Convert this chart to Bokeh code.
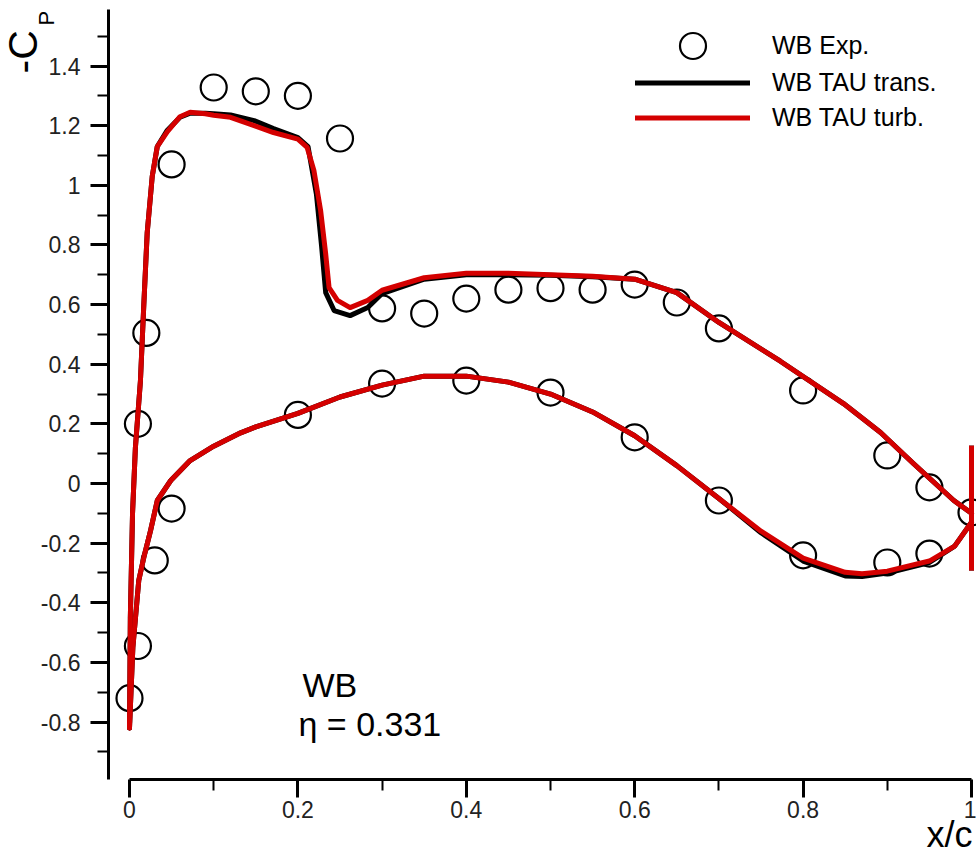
import math
from bokeh.plotting import figure
from bokeh.models import (Range1d, FixedTicker, CustomJSTickFormatter, Legend,
                          LegendItem, Label)
from bokeh.embed import file_html
from bokeh.resources import INLINE

# ---------------- data ----------------
# Experiment (WB Exp.)
exp_upper_x = [0.01, 0.02, 0.05, 0.10, 0.15, 0.20, 0.25, 0.30, 0.35, 0.40, 0.45,
               0.50, 0.55, 0.60, 0.65, 0.70, 0.80, 0.90, 0.95, 1.00]
exp_upper_cp = [0.20, 0.505, 1.07, 1.328, 1.315, 1.30, 1.157, 0.587, 0.57, 0.62, 0.65,
                0.655, 0.65, 0.667, 0.607, 0.52, 0.312, 0.094, -0.013, -0.097]
exp_lower_x = [0.0, 0.01, 0.03, 0.05, 0.20, 0.30, 0.40, 0.50, 0.60, 0.70, 0.80, 0.90, 0.95]
exp_lower_cp = [-0.72, -0.545, -0.258, -0.084, 0.23, 0.335, 0.345, 0.305, 0.155, -0.057,
                -0.241, -0.265, -0.235]

# TAU turbulent (red)
turb_upper_x = [0.0, 0.001, 0.0036, 0.007, 0.013, 0.017, 0.021, 0.027, 0.033, 0.045, 0.06,
                0.072, 0.09, 0.10, 0.12, 0.148, 0.171, 0.20, 0.211, 0.219, 0.227, 0.233,
                0.237, 0.247, 0.262, 0.283, 0.30, 0.35, 0.40, 0.45, 0.50, 0.55, 0.60,
                0.65, 0.70, 0.773, 0.848, 0.892, 0.931, 0.979, 1.0]
turb_upper_cp = [-0.82, -0.45, -0.10, 0.12, 0.345, 0.60, 0.84, 1.03, 1.13, 1.18, 1.23,
                 1.245, 1.24, 1.235, 1.228, 1.20, 1.177, 1.155, 1.127, 1.05, 0.915, 0.77,
                 0.657, 0.614, 0.59, 0.614, 0.648, 0.69, 0.705, 0.705, 0.70, 0.695, 0.685,
                 0.64, 0.54, 0.41, 0.268, 0.171, 0.067, -0.057, -0.10]
turb_lower_x = [0.0, 0.004, 0.011, 0.017, 0.025, 0.033, 0.049, 0.072, 0.10, 0.132, 0.15,
                0.20, 0.25, 0.30, 0.35, 0.40, 0.45, 0.50, 0.55, 0.60, 0.65, 0.70, 0.75,
                0.80, 0.85, 0.87, 0.90, 0.95, 0.98, 1.0]
turb_lower_cp = [-0.82, -0.55, -0.325, -0.248, -0.158, -0.057, 0.01, 0.077, 0.125, 0.17,
                 0.19, 0.235, 0.29, 0.33, 0.36, 0.36, 0.34, 0.30, 0.24, 0.16, 0.06, -0.05,
                 -0.16, -0.25, -0.298, -0.303, -0.294, -0.26, -0.21, -0.13]

# TAU transitional (black)
trans_upper_x = [0.0, 0.001, 0.0036, 0.007, 0.013, 0.017, 0.021, 0.027, 0.033, 0.045, 0.06,
                 0.072, 0.09, 0.10, 0.12, 0.148, 0.171, 0.20, 0.212, 0.222, 0.228, 0.233,
                 0.243, 0.262, 0.283, 0.30, 0.35, 0.40, 0.45, 0.50, 0.55, 0.60, 0.65,
                 0.70, 0.773, 0.848, 0.892, 0.931, 0.979, 1.0]
trans_upper_cp = [-0.82, -0.45, -0.10, 0.12, 0.345, 0.60, 0.84, 1.03, 1.13, 1.185, 1.228,
                  1.242, 1.242, 1.24, 1.236, 1.217, 1.19, 1.16, 1.13, 0.97, 0.80, 0.64,
                  0.58, 0.563, 0.59, 0.637, 0.685, 0.70, 0.70, 0.698, 0.693, 0.685, 0.64,
                  0.54, 0.41, 0.268, 0.171, 0.067, -0.057, -0.10]
trans_lower_x = turb_lower_x
trans_lower_cp = [-0.82, -0.55, -0.325, -0.248, -0.158, -0.057, 0.01, 0.077, 0.125, 0.17,
                  0.19, 0.235, 0.29, 0.33, 0.36, 0.36, 0.34, 0.30, 0.24, 0.16, 0.06, -0.05,
                  -0.165, -0.26, -0.31, -0.312, -0.30, -0.265, -0.21, -0.13]

# blunt trailing edge (x/c = 1)
te_x = [1.0, 1.0]
te_cp = [0.127, -0.292]

x_ticks = [0.0, 0.2, 0.4, 0.6, 0.8, 1.0]
x_minor = [0.1, 0.3, 0.5, 0.7, 0.9]
y_ticks = [-0.8, -0.6, -0.4, -0.2, 0.0, 0.2, 0.4, 0.6, 0.8, 1.0, 1.2, 1.4]
y_minor = [-0.9, -0.7, -0.5, -0.3, -0.1, 0.1, 0.3, 0.5, 0.7, 0.9, 1.1, 1.3, 1.5]

# ---------------- layout ----------------
W, H = 976, 858
AX_LEFT, AX_TOP, AX_BOTTOM = 108, 9, 779   # axis line positions (px)
X0_PX, X_SCALE = 129.0, 842.0      # pixel of x/c=0, px per unit
Y0_PX, Y_SCALE = 483.0, 298.2      # pixel of Cp=0, px per unit

def px2x(px):
    return (px - X0_PX) / X_SCALE

def px2y(py):
    return (Y0_PX - py) / Y_SCALE

p = figure(width=W, height=H, output_backend="svg", toolbar_location=None,
           x_range=Range1d(px2x(0), px2x(W)),
           y_range=Range1d(px2y(H), px2y(0)),
           min_border=0, min_border_left=0, min_border_right=0,
           min_border_top=0, min_border_bottom=0)
p.outline_line_color = None
p.grid.visible = False
p.background_fill_color = "white"
p.border_fill_color = "white"

fmt = CustomJSTickFormatter(code="return String(Math.round(tick*10)/10);")
for ax in (p.xaxis[0], p.yaxis[0]):
    ax.axis_line_width = 3
    ax.axis_line_color = "black"
    ax.major_tick_line_width = 3
    ax.major_tick_line_color = "black"
    ax.major_tick_in = 0
    ax.major_tick_out = 18
    ax.minor_tick_line_width = 2
    ax.minor_tick_line_color = "black"
    ax.minor_tick_in = 0
    ax.minor_tick_out = 11
    ax.major_label_text_font = "Liberation Sans"
    ax.major_label_text_font_size = "23px"
    ax.major_label_text_color = "#222222"
    ax.formatter = fmt
p.xaxis[0].ticker = FixedTicker(ticks=x_ticks, minor_ticks=x_minor)
p.yaxis[0].ticker = FixedTicker(ticks=y_ticks, minor_ticks=y_minor)
p.xaxis[0].bounds = (0, 1)
p.yaxis[0].bounds = (px2y(AX_BOTTOM), px2y(AX_TOP))
p.xaxis[0].fixed_location = px2y(AX_BOTTOM)
p.yaxis[0].fixed_location = px2x(AX_LEFT)
p.xaxis[0].major_label_standoff = 3
p.yaxis[0].major_label_standoff = 10

# experimental circles
r_exp = p.scatter(exp_upper_x, exp_upper_cp, marker="circle", size=26,
                  fill_alpha=0, line_color="black", line_width=2.2)
p.scatter(exp_lower_x, exp_lower_cp, marker="circle", size=26,
          fill_alpha=0, line_color="black", line_width=2.2)

# CFD lines
lw = 5
r_tr = p.line(trans_upper_x, trans_upper_cp, line_color="black", line_width=lw,
              line_join="round", line_cap="round")
p.line(trans_lower_x, trans_lower_cp, line_color="black", line_width=lw,
       line_join="round", line_cap="round")
p.line(te_x, te_cp, line_color="black", line_width=lw)
r_tu = p.line(turb_upper_x, turb_upper_cp, line_color="#d40000", line_width=lw,
              line_join="round", line_cap="round")
p.line(turb_lower_x, turb_lower_cp, line_color="#d40000", line_width=lw,
       line_join="round", line_cap="round")
p.line(te_x, te_cp, line_color="#d40000", line_width=lw)


def style_legend(lg, row_h):
    lg.glyph_width = 115
    lg.glyph_height = row_h
    lg.label_height = row_h
    lg.spacing = 0
    lg.padding = 0
    lg.margin = 0
    lg.label_standoff = 22
    lg.border_line_alpha = 0
    lg.background_fill_alpha = 0
    lg.label_text_font = "Liberation Sans"
    lg.label_text_font_size = "25px"
    lg.label_text_color = "black"


# legend: marker row (taller row so the marker is drawn at full size)
MK_ROW = 65
leg_exp = Legend(items=[LegendItem(label="WB Exp.", renderers=[r_exp])],
                 location=(635, H - (45 + MK_ROW / 2)))
style_legend(leg_exp, MK_ROW)
p.add_layout(leg_exp)

LN_ROW = 35
leg_cfd = Legend(items=[LegendItem(label="WB TAU trans.", renderers=[r_tr]),
                        LegendItem(label="WB TAU turb.", renderers=[r_tu])],
                 location=(635, H - (82 - LN_ROW / 2 + 2 * LN_ROW)))
style_legend(leg_cfd, LN_ROW)
p.add_layout(leg_cfd)

font = "Liberation Sans"
p.add_layout(Label(x=px2x(302), y=px2y(703), text="WB", text_font=font,
                   text_font_size="34px", text_color="black"))
p.add_layout(Label(x=px2x(298), y=px2y(742), text="η = 0.331", text_font=font,
                   text_font_size="34px", text_color="black"))
p.add_layout(Label(x=px2x(972), y=px2y(854), text="x/c", text_font=font,
                   text_font_size="36px", text_color="black", text_align="right"))
p.add_layout(Label(x=px2x(45), y=px2y(73), text="-C", text_font=font,
                   text_font_size="41px", text_color="black", angle=math.pi / 2))
p.add_layout(Label(x=px2x(58), y=px2y(25), text="P", text_font=font,
                   text_font_size="22px", text_color="black", angle=math.pi / 2))

open("out.html", "w").write(file_html(p, INLINE))
